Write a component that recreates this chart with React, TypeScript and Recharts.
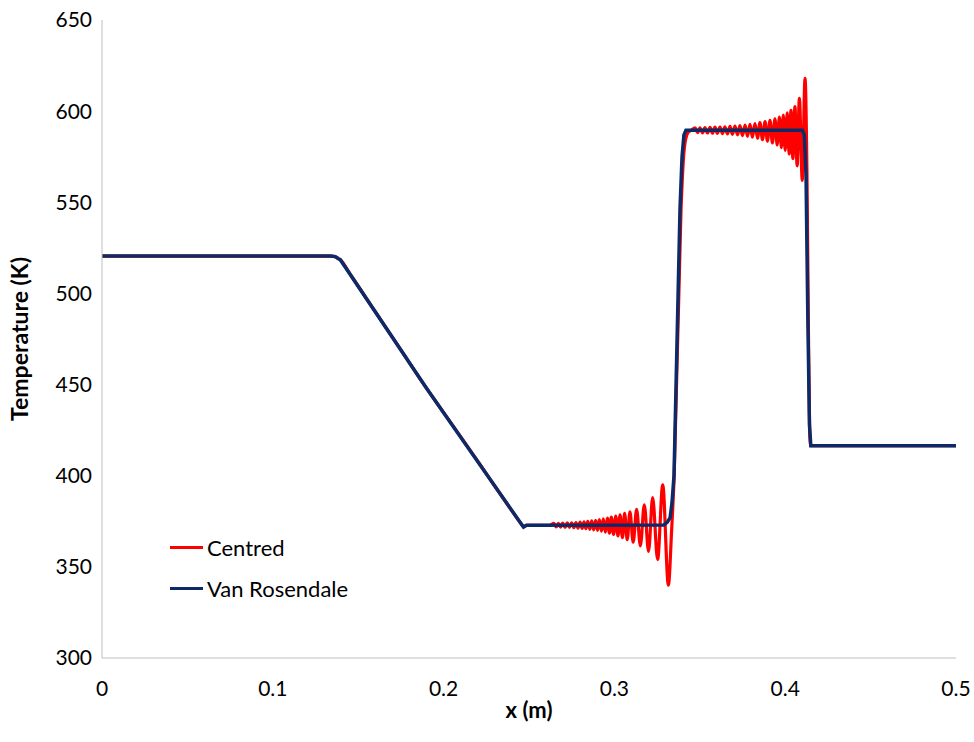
import React from 'react';
import {
  LineChart, Line, XAxis, YAxis, Label,
} from 'recharts';

// x positions (m) and temperatures (K)
const centredX = [
  0, 0.134, 0.1365, 0.1385, 0.1395, 0.145, 0.16, 0.175, 0.19, 0.205, 0.22, 0.235,
  0.2455, 0.2468, 0.2485, 0.262,
  0.2646, 0.2659, 0.2672, 0.2685, 0.2697, 0.2711, 0.2724, 0.2737, 0.275, 0.2763,
  0.2775, 0.2787, 0.2799, 0.2811, 0.2822, 0.2833, 0.2844, 0.2856, 0.2867, 0.2879,
  0.289, 0.2901, 0.2912, 0.2924, 0.2935, 0.2947, 0.2959, 0.2971, 0.2982, 0.2995,
  0.3008, 0.3021, 0.3033, 0.3047, 0.306, 0.3075, 0.3091, 0.311, 0.313, 0.3152,
  0.3175, 0.32, 0.3224, 0.3253, 0.3283, 0.3316,
  0.3335, 0.335, 0.339, 0.3405, 0.3418, 0.3433, 0.345,
  0.3472, 0.3487, 0.3501, 0.3516, 0.353, 0.3545, 0.356, 0.3574, 0.3589, 0.3603,
  0.3618, 0.3633, 0.3647, 0.3662, 0.3677, 0.3691, 0.3706, 0.3721, 0.3735, 0.375,
  0.3765, 0.3779, 0.3794, 0.3808, 0.3823, 0.3838, 0.3852, 0.3867, 0.3882, 0.3896,
  0.3911, 0.3925, 0.394, 0.3953, 0.3966, 0.3978, 0.3989, 0.4, 0.4012, 0.4023,
  0.4034, 0.4045, 0.4057, 0.407, 0.4083, 0.41, 0.4116,
  0.4128, 0.4136, 0.4143, 0.415, 0.5,
];
const centredT = [
  520.5, 520.5, 520.2, 519, 518.5, 511, 490, 469, 448, 428, 408, 387.5,
  373.5, 372, 372.8, 372.8,
  373.8, 371.9, 373.9, 371.8, 374.0, 371.7, 374.1, 371.6, 374.2, 371.5,
  374.3, 371.3, 374.5, 371.1, 374.7, 370.9, 375.0, 370.6, 375.2, 370.3,
  375.5, 370.0, 375.9, 369.6, 376.3, 369.1, 376.8, 368.5, 377.3, 367.8,
  377.9, 367.0, 378.5, 366.0, 379.3, 364.9, 380.2, 363.5, 381.5, 361.5,
  384.0, 358.5, 388.0, 354.0, 395.0, 340.0,
  370, 400, 546, 575, 585, 588.5, 589.5,
  590.8, 588.2, 590.9, 588.1, 591.0, 588.0, 591.1, 587.9, 591.2, 587.8,
  591.3, 587.7, 591.4, 587.5, 591.6, 587.3, 591.8, 587.0, 592.1, 586.6,
  592.4, 586.2, 592.8, 585.7, 593.2, 585.1, 593.7, 584.4, 594.3, 583.6,
  595.0, 582.6, 595.8, 581.5, 596.7, 580.0, 597.8, 578.5, 599.0, 576.5,
  600.5, 574.0, 602.5, 570.0, 607.0, 562.0, 618.0,
  560, 480, 425, 416.5, 416.5,
];

const vanRosX = [
  0, 0.134, 0.1365, 0.1385, 0.1395, 0.19, 0.2455, 0.2468, 0.2485,
  0.329, 0.331, 0.3326, 0.3337, 0.3349, 0.3384, 0.3396, 0.3407, 0.3419, 0.344,
  0.41, 0.4112, 0.4122, 0.4132, 0.4142, 0.415, 0.5,
];
const vanRosT = [
  520.5, 520.5, 520.2, 519, 518.5, 448, 373.5, 371.8, 372.8,
  373, 374.5, 377, 385, 400, 546, 575, 587, 589.5, 589.5,
  589.5, 587, 565, 490, 428, 416.5, 416.5,
];

const xTicks = [0, 0.1, 0.2, 0.3, 0.4, 0.5];
const yTicks = [300, 350, 400, 450, 500, 550, 600, 650];

const centredData = centredX.map((x, i) => ({ x, T: centredT[i] }));
const vanRosData = vanRosX.map((x, i) => ({ x, T: vanRosT[i] }));

const FONT = 'Lato, "Open Sans", sans-serif';
const RED = '#ff0000';
const NAVY = '#0c2a67';

const series = [
  { name: 'Centred', color: RED },
  { name: 'Van Rosendale', color: NAVY },
];

// legend sits inside the plot, bottom-left, like the Excel original
const LegendBox = () => (
  <div style={{
    position: 'absolute', left: 170, top: 527,
    fontFamily: FONT, fontSize: 22, color: '#000',
  }}>
    {series.map((it) => (
      <div key={it.name} style={{ display: 'flex', alignItems: 'center', height: 41 }}>
        <div style={{ width: 33, height: 3, background: it.color, marginRight: 4 }} />
        <span>{it.name}</span>
      </div>
    ))}
  </div>
);

export default function App() {
  return (
    <div style={{ position: 'absolute', left: 0, top: 0, background: '#fff' }}>
      <LineChart
        width={974}
        height={742}
        margin={{ top: 20, right: 18, bottom: 24, left: 0 }}
      >
        <XAxis
          type="number"
          dataKey="x"
          domain={[0, 0.5]}
          ticks={xTicks}
          tickFormatter={(v: number) => String(v)}
          allowDataOverflow
          height={60}
          stroke="#bfbfbf"
          tickLine={false}
          tickSize={0}
          tickMargin={23}
          tick={{ fill: '#000', fontSize: 21, fontFamily: FONT }}
        >
          <Label
            value="x (m)"
            position="insideBottom"
            offset={0}
            style={{ fill: '#000', fontSize: 22, fontWeight: 700, fontFamily: FONT }}
          />
        </XAxis>
        <YAxis
          type="number"
          domain={[300, 650]}
          ticks={yTicks}
          allowDataOverflow
          width={102}
          stroke="#bfbfbf"
          tickLine={false}
          tickSize={0}
          tickMargin={10}
          tick={{ fill: '#000', fontSize: 21, fontFamily: FONT }}
        >
          <Label
            value="Temperature (K)"
            angle={-90}
            position="insideLeft"
            offset={20}
            style={{ textAnchor: 'middle', fill: '#000', fontSize: 23, fontWeight: 700, fontFamily: FONT }}
          />
        </YAxis>
        <Line
          data={centredData}
          dataKey="T"
          name="Centred"
          type="monotone"
          stroke={RED}
          strokeWidth={3.2}
          dot={false}
          isAnimationActive={false}
        />
        <Line
          data={vanRosData}
          dataKey="T"
          name="Van Rosendale"
          type="linear"
          stroke={NAVY}
          strokeWidth={3.5}
          dot={false}
          isAnimationActive={false}
        />
      </LineChart>
      <LegendBox />
    </div>
  );
}
